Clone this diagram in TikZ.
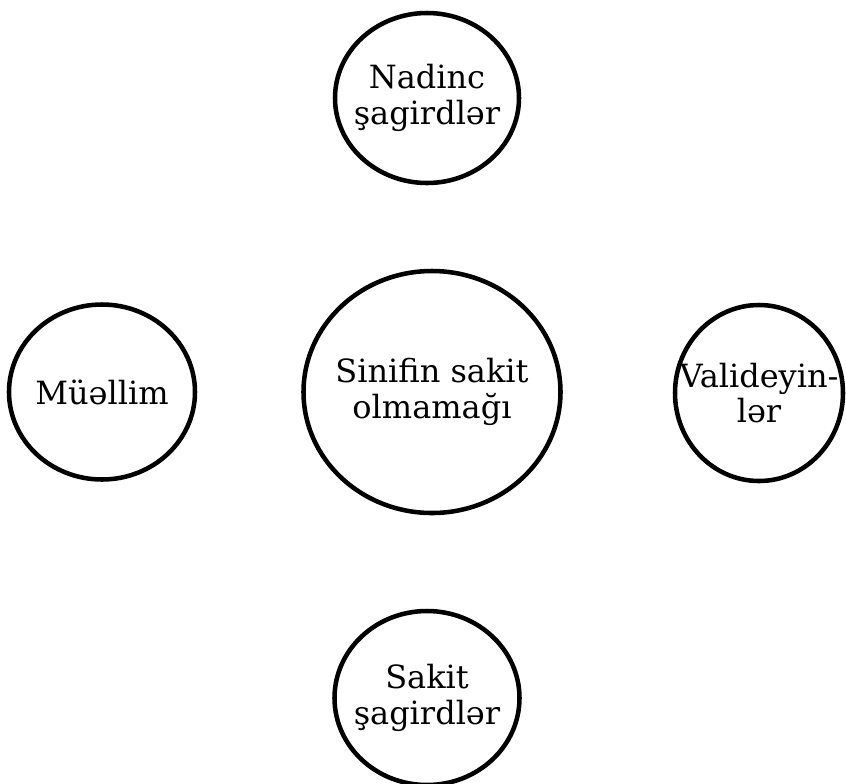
\documentclass[tikz,border=0pt]{standalone}
\usepackage{fontspec}
\setmainfont{DejaVu Serif}
\usetikzlibrary{shapes.geometric}

\begin{document}
\begin{tikzpicture}[x=0.75pt, y=-0.75pt,
    every node/.style={font=\fontsize{24}{26.5}\selectfont},
    ring/.style={draw, ellipse, line width=3.4pt, inner sep=0pt},
    word/.style={align=center, inner sep=0pt}]
    \useasboundingbox (0, 0) rectangle (846, 783);

    \node [ring, minimum width=192.75pt, minimum height=181.5pt] (sinif) at (432, 392) {};
    \node [ring, minimum width=138pt, minimum height=127.5pt] (nadinc) at (427, 98) {};
    \node [ring, minimum width=139.5pt, minimum height=131.25pt] (muellim) at (102, 392) {};
    \node [ring, minimum width=126pt, minimum height=132pt] (valid) at (759, 393) {};
    \node [ring, minimum width=138.75pt, minimum height=130.5pt] (sakit) at (427, 698) {};

    \node [word] (sinift) at (sinif) {Sinifin sakit\\olmamağı};
    \node [word] (nadinct) at (nadinc) {Nadinc\\şagirdlər};
    \node [word] (muellimt) at (muellim) {Müəllim};
    \node [word] (validt) at (valid) {Valideyin-\\lər};
    \node [word] (sakitt) at (sakit) {Sakit\\şagirdlər};
  \end{tikzpicture}
\end{document}
